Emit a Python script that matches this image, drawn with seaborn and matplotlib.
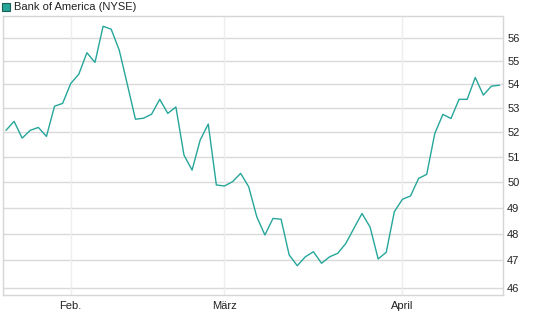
import numpy as np
import pandas as pd
import matplotlib
matplotlib.use("Agg")
import matplotlib.pyplot as plt
from matplotlib.patches import Rectangle
import seaborn as sns

# --- data (trading-day series) ---
prices = [52.08, 52.45, 51.76, 52.08, 52.20, 51.83, 53.08, 53.20, 54.04, 54.44,
          55.37, 54.95, 56.54, 56.41, 55.48, 54.00, 52.54, 52.58, 52.75, 53.37,
          52.78, 53.05, 51.07, 50.47, 51.68, 52.34, 49.88, 49.84, 50.01, 50.34,
          49.81, 48.64, 47.95, 48.58, 48.55, 47.20, 46.80, 47.13, 47.32, 46.89,
          47.13, 47.26, 47.63, 48.20, 48.77, 48.25, 47.05, 47.30, 48.84, 49.32,
          49.45, 50.14, 50.30, 51.95, 52.74, 52.57, 53.37, 53.37, 54.30, 53.55,
          53.93, 53.97]
month_labels = ["Feb.", "März", "April"]
month_positions = [8, 27, 49]
y_ticks = [46, 47, 48, 49, 50, 51, 52, 53, 54, 55, 56]
series_name = "Bank of America (NYSE)"

df = pd.DataFrame({"idx": np.arange(len(prices)), "price": prices})

sns.set_theme(style="white")
plt.rcParams["font.family"] = ["Liberation Sans", "DejaVu Sans"]

line_color = "#26a69a"
W, H = 545, 327

fig = plt.figure(figsize=(W / 100, H / 100), dpi=100)
ax = fig.add_axes([3 / W, 32 / H, 500 / W, 279 / H])

sns.lineplot(data=df, x="idx", y="price", ax=ax, color=line_color, linewidth=1.0)

ax.set_yscale("log")
ax.set_ylim(45.73, 57.0)
ax.set_xlim(-0.37, 61.43)

ax.yaxis.set_major_locator(matplotlib.ticker.FixedLocator(y_ticks))
ax.yaxis.set_minor_locator(matplotlib.ticker.NullLocator())
ax.yaxis.set_major_formatter(matplotlib.ticker.FixedFormatter([str(t) for t in y_ticks]))
ax.yaxis.tick_right()
ax.set_xticks(month_positions)
ax.set_xticklabels(month_labels)
ax.set_xlabel("")
ax.set_ylabel("")

ax.tick_params(axis="both", length=0, labelsize=8, colors="#222222", pad=4)
ax.tick_params(axis="y", pad=3)

ax.grid(False)
for t in y_ticks:
    ax.axhline(t, color="#dadada", linewidth=1.0, zorder=0)
for p in month_positions:
    ax.axvline(p, color="#eeeeee", linewidth=1.0, zorder=0)

for s in ["left", "right", "top", "bottom"]:
    ax.spines[s].set_visible(True)
    ax.spines[s].set_color("#d6d6d6")
    ax.spines[s].set_linewidth(1.0)

# legend-like header
fig.patches.append(Rectangle((1.5 / W, (H - 11) / H), 8.5 / W, 8.5 / H,
                             transform=fig.transFigure, facecolor=line_color,
                             edgecolor="#1b5e58", linewidth=0.8))
fig.text(14 / W, (H - 7) / H, series_name, fontsize=8, color="#222222",
         ha="left", va="center")

fig.savefig("out.png", dpi=100)
